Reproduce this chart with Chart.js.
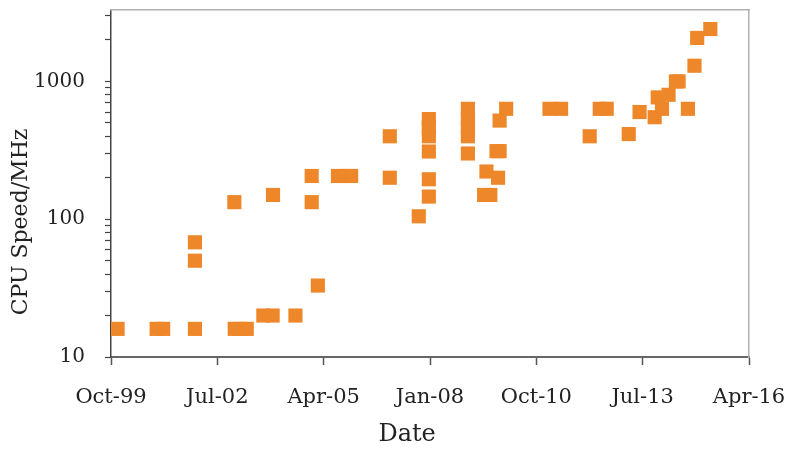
<!DOCTYPE html>
<html>
<head>
<meta charset="utf-8">
<script src="https://cdn.jsdelivr.net/npm/chart.js@4.4.1/dist/chart.umd.min.js"></script>
<style>
    html, body { margin: 0; padding: 0; background: #fff; }
</style>
</head>
<body>
<canvas id="chart" width="791" height="450"></canvas>
<script>
// release date (decimal year) and clock speed (MHz)
const dates = [
    1999.92, 2000.93, 2001.10, 2001.92, 2001.92, 2001.92, 2002.95, 2003.10, 2003.26,
    2003.69, 2003.93, 2004.52, 2005.10,
    2002.94, 2003.94, 2004.94, 2004.94, 2005.62, 2005.79, 2005.96,
    2006.96, 2006.96, 2007.71,
    2007.97, 2007.97, 2007.97, 2007.97, 2007.97, 2007.97,
    2008.98, 2008.98, 2008.98, 2008.98, 2008.98,
    2009.40, 2009.56, 2009.46, 2009.76, 2009.72, 2009.80, 2009.80, 2009.97,
    2011.09, 2011.39, 2012.13, 2012.39, 2012.57, 2013.14, 2013.42,
    2013.81, 2014.00, 2013.89, 2014.17, 2014.36, 2014.43, 2014.67,
    2014.84, 2014.91, 2015.25
];
const speeds = [
    16, 16, 16, 16, 50, 68, 16, 16, 16,
    20, 20, 20, 33,
    133, 150, 206, 133, 206, 206, 206,
    400, 200, 105,
    533, 466, 400, 310, 195, 146,
    633, 533, 466, 400, 300,
    150, 150, 222, 200, 312, 312, 520, 633,
    633, 633, 400, 633, 633, 415, 600,
    550, 633, 766, 800, 1000, 1000, 633,
    1300, 2070, 2400
];

const xTickValues = [1999.75, 2002.5, 2005.25, 2008, 2010.75, 2013.5, 2016.25];
const xTickLabels = ["Oct-99", "Jul-02", "Apr-05", "Jan-08", "Oct-10", "Jul-13", "Apr-16"];
const yDecades = [10, 100, 1000];
const yMinorSteps = [1, 2, 3, 4, 5, 6, 7, 8, 9];
const yMin = 10;
const yMax = 3300;

const points = dates.map((d, i) => ({ x: d, y: speeds[i] }));

const font = "'DejaVu Serif', serif";
const textColor = "#222";

// keep the plot box where the layout padding puts it
function noPad(scale) {
    scale.paddingTop = 0;
    scale.paddingBottom = 0;
    scale.paddingLeft = 0;
    scale.paddingRight = 0;
}

new Chart(document.getElementById("chart").getContext("2d"), {
    type: "scatter",
    data: {
        datasets: [
            {
                data: points,
                pointStyle: "rect",
                pointRadius: 10,
                pointHoverRadius: 10,
                backgroundColor: "#ED8729",
                borderWidth: 0,
            },
        ],
    },
    options: {
        responsive: false,
        animation: false,
        devicePixelRatio: 1,
        layout: { padding: { left: 0, right: 42, top: 10, bottom: 0 } },
        plugins: {
            legend: { display: false },
            tooltip: { enabled: false },
        },
        scales: {
            x: {
                type: "linear",
                position: "bottom",
                min: xTickValues[0],
                max: xTickValues[xTickValues.length - 1],
                afterBuildTicks: (scale) => {
                    scale.ticks = xTickValues.map((v) => ({ value: v }));
                },
                afterFit: (scale) => {
                    scale.height = 93;
                    noPad(scale);
                },
                ticks: {
                    autoSkip: false,
                    maxRotation: 0,
                    padding: 20,
                    color: textColor,
                    font: { family: font, size: 21 },
                    callback: (v, i) => xTickLabels[i],
                },
                grid: { drawOnChartArea: false, tickLength: 8, tickColor: "#555", tickWidth: 1.5 },
                border: { color: "#666", width: 2 },
                title: {
                    display: true,
                    text: "Date      ",
                    color: textColor,
                    font: { family: font, size: 24 },
                    padding: { top: 0, bottom: 1 },
                },
            },
            y: {
                type: "logarithmic",
                position: "left",
                min: yMin,
                max: yMax,
                afterBuildTicks: (scale) => {
                    const t = [];
                    yDecades.forEach((d) => {
                        yMinorSteps.forEach((m) => {
                            if (d * m <= yMax) t.push({ value: d * m });
                        });
                    });
                    scale.ticks = t;
                },
                afterFit: (scale) => {
                    scale.width = 111;
                    noPad(scale);
                },
                ticks: {
                    autoSkip: false,
                    padding: 20,
                    color: textColor,
                    font: { family: font, size: 20 },
                    callback: (v) => (yDecades.includes(v) ? String(v) : ""),
                },
                grid: { drawOnChartArea: false, tickLength: 6, tickColor: "#444", tickWidth: 1.2 },
                border: { color: "#444", width: 1.5 },
                title: {
                    display: true,
                    text: "CPU Speed/MHz           ",
                    color: textColor,
                    font: { family: font, size: 22 },
                    padding: { top: 8, bottom: 0 },
                },
            },
            x2: {
                type: "linear",
                position: "top",
                min: xTickValues[0],
                max: xTickValues[xTickValues.length - 1],
                ticks: { display: false },
                grid: { drawOnChartArea: false, drawTicks: false },
                border: { color: "#b0b0b0", width: 1.5 },
                afterFit: (scale) => {
                    scale.height = 0;
                    noPad(scale);
                },
            },
            y2: {
                type: "logarithmic",
                position: "right",
                min: yMin,
                max: yMax,
                ticks: { display: false },
                grid: { drawOnChartArea: false, drawTicks: false },
                border: { color: "#b0b0b0", width: 1.5 },
                afterFit: (scale) => {
                    scale.width = 0;
                    noPad(scale);
                },
            },
        },
    },
});
</script>
</body>
</html>
